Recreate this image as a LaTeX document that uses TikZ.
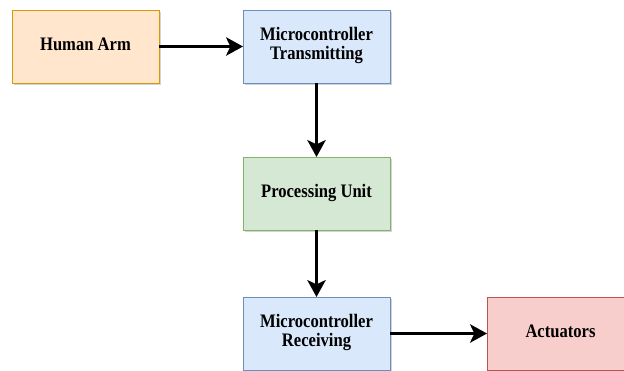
\documentclass[tikz,border=0pt]{standalone}
\usepackage{fontspec}
\setmainfont{Liberation Serif}
\usepackage{graphicx}
\usetikzlibrary{arrows.meta, positioning, shadows}
\definecolor{armfill}{HTML}{FFE6CC}\definecolor{armdraw}{HTML}{D79B00}
\definecolor{mcfill}{HTML}{DAE8FC}\definecolor{mcdraw}{HTML}{6C8EBF}
\definecolor{pufill}{HTML}{D5E8D4}\definecolor{pudraw}{HTML}{82B366}
\definecolor{actfill}{HTML}{F8CECC}\definecolor{actdraw}{HTML}{B85450}
\newcommand{\blocktext}[1]{\scalebox{1}[1.15]{\begin{tabular}{@{}c@{}}#1\end{tabular}}}
\begin{document}
\begin{tikzpicture}[
	blockbox/.style={rectangle, minimum width=3.675cm, minimum height=1.825cm,
		inner sep=0pt, outer sep=0pt, line width=0.7pt, align=center,
		font=\fontsize{11.8}{11.8}\selectfont\bfseries,
		drop shadow={shadow xshift=1.6pt, shadow yshift=-1.6pt, opacity=0.35, fill=gray}},
	flow/.style={line width=2.3pt, -{Stealth[length=12pt, width=13pt, inset=3pt]}},
	node distance=1.85cm]
				\useasboundingbox (0,0) rectangle (15.6,-9.275);

				\node[blockbox, fill=armfill, draw=armdraw] (arm) at (2.1375,-1.1625) {\blocktext{Human Arm}};
				\node[blockbox, fill=mcfill, draw=mcdraw, right=2.1cm of arm] (mctx) {\blocktext{Microcontroller\\Transmitting}};
				\node[blockbox, fill=pufill, draw=pudraw, below=of mctx] (pu) {\blocktext{Processing Unit}};
				\node[blockbox, fill=mcfill, draw=mcdraw, below=1.675cm of pu] (mcrx) {\blocktext{Microcontroller\\Receiving}};
				\node[blockbox, fill=actfill, draw=actdraw, right=2.425cm of mcrx] (act) {\blocktext{Actuators}};

				\draw[flow] (arm) -- (mctx);
				\draw[flow] (mctx) -- (pu);
				\draw[flow] (pu) -- (mcrx);
				\draw[flow] (mcrx) -- (act);
\end{tikzpicture}
\end{document}
